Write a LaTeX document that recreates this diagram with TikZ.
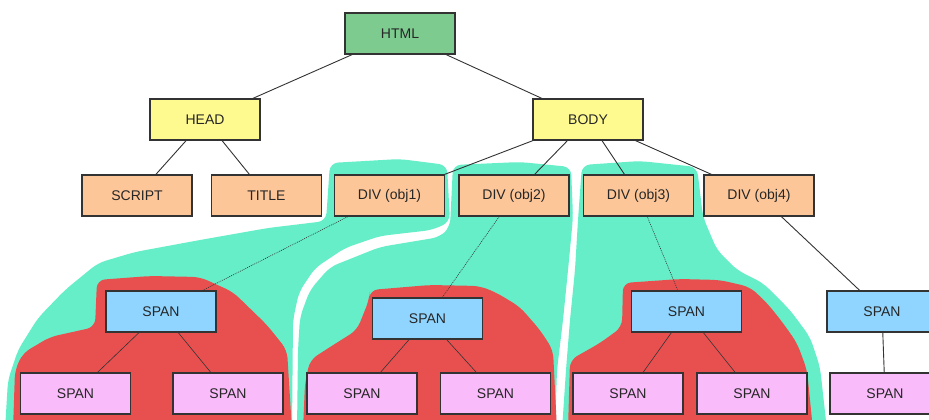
\documentclass[tikz,border=0pt]{standalone}
\usepackage{fontspec}
\setmainfont{Liberation Sans}
\definecolor{cgreen}{HTML}{7DCB8F}
\definecolor{cyellow}{HTML}{FFFA90}
\definecolor{corange}{HTML}{FDC698}
\definecolor{cblue}{HTML}{90D5FF}
\definecolor{cpink}{HTML}{F9BBF9}
\definecolor{cteal}{HTML}{66EEC8}
\definecolor{cred}{HTML}{E85050}
\definecolor{cline}{HTML}{333333}
\begin{document}
\begin{tikzpicture}[x=1bp,y=-1bp,
  box/.style={draw=cline,line width=1.2bp,minimum width=110bp,minimum height=41bp,inner sep=0pt,
    font=\fontsize{14bp}{16bp}\selectfont,text=black!85},
  gbox/.style={box,fill=cgreen},
  ybox/.style={box,fill=cyellow},
  obox/.style={box,fill=corange},
  bbox/.style={box,fill=cblue},
  pbox/.style={box,fill=cpink},
  edge/.style={draw=cline,line width=0.9bp},
  thinedge/.style={draw=cline,line width=0.6bp},
  dotedge/.style={draw=cline,line width=0.6bp,dash pattern=on 1bp off 1bp},
  tealblob/.style={fill=cteal,rounded corners=8bp},
  redblob/.style={fill=cred,rounded corners=8bp}]
\clip (0,0) rectangle (929,419);
\fill[white] (0,0) rectangle (929,419);
% teal blobs
\path[tealblob] (330,163) -- (400,159) -- (447,165) -- (450,222) -- (432,230) -- (380,236) -- (345,248) -- (315,268) -- (299,292) -- (293,320) -- (292,430) -- (5,430) -- (8,380) -- (18,350) -- (38,318) -- (65,290) -- (98,263) -- (135,252) -- (200,240) -- (268,228) -- (326,221) -- cycle;
\path[tealblob] (453,165) -- (520,162) -- (571,167) -- (573,217) -- (569,260) -- (563,320) -- (557,370) -- (555,430) -- (297,430) -- (298,350) -- (300,317) -- (310,290) -- (330,267) -- (380,247) -- (440,237) -- (450,227) -- cycle;
\path[tealblob] (582,165) -- (640,161) -- (697,167) -- (703,217) -- (717,250) -- (737,270) -- (763,283) -- (790,310) -- (810,337) -- (820,367) -- (827,430) -- (562,430) -- (566,370) -- (570,320) -- (575,270) -- (578,220) -- cycle;
% red blobs
\path[redblob] (97,280) -- (150,276) -- (200,277) -- (233,292) -- (267,325) -- (287,350) -- (292,430) -- (13,430) -- (15,370) -- (23,353) -- (50,337) -- (95,327) -- cycle;
\path[redblob] (370,290) -- (430,285) -- (480,286) -- (497,293) -- (520,307) -- (540,330) -- (553,350) -- (557,430) -- (303,430) -- (305,383) -- (310,360) -- (330,347) -- (357,330) -- (369,300) -- cycle;
\path[redblob] (623,283) -- (680,279) -- (720,280) -- (750,287) -- (767,303) -- (783,323) -- (797,343) -- (807,370) -- (813,430) -- (568,430) -- (570,360) -- (600,343) -- (622,327) -- cycle;
% nodes
\node[gbox] (html) at (400,33.5) {HTML};
\node[ybox] (head) at (205,119.5) {HEAD};
\node[ybox] (body) at (588,119.5) {BODY};
\node[obox] (script) at (137,195.5) {SCRIPT};
\node[obox] (title) at (266.5,195.5) {TITLE};
\node[obox] (div1) at (389.5,195.5) {DIV (obj1)};
\node[obox] (div2) at (514,195.5) {DIV (obj2)};
\node[obox] (div3) at (638.5,195.5) {DIV (obj3)};
\node[obox] (div4) at (759,195.5) {DIV (obj4)};
\node[bbox] (s1) at (161,311.5) {SPAN};
\node[pbox] (s1a) at (75.5,393.5) {SPAN};
\node[pbox] (s1b) at (228,393.5) {SPAN};
\node[bbox] (s2) at (427.5,318.5) {SPAN};
\node[pbox] (s2a) at (362,393.5) {SPAN};
\node[pbox] (s2b) at (495.5,393.5) {SPAN};
\node[bbox] (s3) at (686.5,311.5) {SPAN};
\node[pbox] (s3a) at (628,393.5) {SPAN};
\node[pbox] (s3b) at (752,393.5) {SPAN};
\node[bbox] (s4) at (882,311.5) {SPAN};
\node[pbox] (s4a) at (885,393.5) {SPAN};
% edges
\draw[edge] (html) -- (head);
\draw[edge] (html) -- (body);
\draw[edge] (head) -- (script);
\draw[edge] (head) -- (title);
\draw[edge] (body) -- (div1);
\draw[edge] (body) -- (div2);
\draw[edge] (body) -- (div3);
\draw[edge] (body) -- (div4);
\draw[dotedge] (div1) -- (s1);
\draw[dotedge] (div2) -- (s2);
\draw[dotedge] (div3) -- (s3);
\draw[edge] (div4) -- (s4);
\draw[thinedge] (s1) -- (s1a);
\draw[thinedge] (s1) -- (s1b);
\draw[thinedge] (s2) -- (s2a);
\draw[thinedge] (s2) -- (s2b);
\draw[thinedge] (s3) -- (s3a);
\draw[thinedge] (s3) -- (s3b);
\draw[edge] (s4) -- (s4a);
\end{tikzpicture}
\end{document}
